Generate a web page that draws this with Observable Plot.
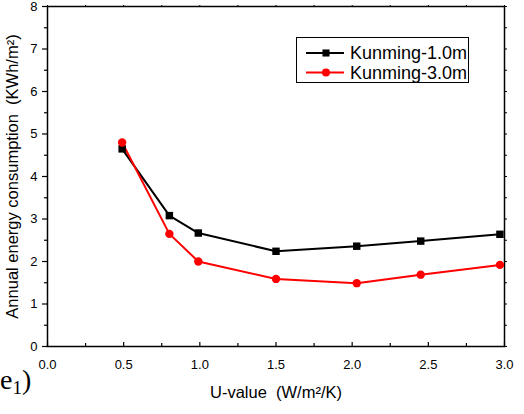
<!DOCTYPE html>
<html>
<head>
<meta charset="utf-8">
<script src="https://cdn.jsdelivr.net/npm/d3@7"></script>
<script src="https://cdn.jsdelivr.net/npm/@observablehq/plot@0.6"></script>
<style>
  html, body { margin: 0; padding: 0; background: #fff; overflow: hidden; }
  #wrap { position: relative; width: 524px; height: 414px; overflow: hidden; font-family: "Liberation Sans", Arial, sans-serif; }
  #wrap > svg { display: block; max-width: none; }
  #wrap svg text { white-space: pre; }
  #legend { position: absolute; left: 296px; top: 37px; }
  #panel { position: absolute; left: 0px; top: 366px; font-family: "Liberation Serif", "Times New Roman", serif; font-size: 28px; line-height: 1; color: #000; }
  #panel sub { font-size: 19px; vertical-align: -5px; }
</style>
</head>
<body>
<div id="wrap">
  <div id="panel">e<sub>1</sub>)</div>
</div>
<script>
// U-value of the envelope (W/m²/K)
const uValues = [0.49, 0.80, 0.99, 1.50, 2.03, 2.45, 2.97];
// Annual energy consumption (KWh/m²) for two burial depths
const kunming10 = [4.65, 3.08, 2.67, 2.24, 2.36, 2.48, 2.64];
const kunming30 = [4.80, 2.65, 2.00, 1.59, 1.49, 1.69, 1.92];

const seriesNames = ["Kunming-1.0m", "Kunming-3.0m"];
const seriesColors = ["#000000", "#ff0000"];
const seriesSymbols = ["square", "circle"];

const xMajor = [0, 0.5, 1.0, 1.5, 2.0, 2.5, 3.0];
const xMinor = [0.25, 0.75, 1.25, 1.75, 2.25, 2.75];
const yMajor = [0, 1, 2, 3, 4, 5, 6, 7, 8];
const yMinor = [0.5, 1.5, 2.5, 3.5, 4.5, 5.5, 6.5, 7.5];

const xTitle = "U-value  (W/m²/K)";
const yTitle = "Annual energy consumption  (KWh/m²)";

const rows = [
  ...uValues.map((u, i) => ({u, e: kunming10[i], series: seriesNames[0]})),
  ...uValues.map((u, i) => ({u, e: kunming30[i], series: seriesNames[1]}))
];

const H = 414, mTop = 6, mBottom = 68;
const frameH = H - mTop - mBottom;
const none = () => "";
const fmtX = d3.format(".1f");

const chart = Plot.plot({
  width: 524,
  height: H,
  marginLeft: 47,
  marginRight: 20,
  marginTop: mTop,
  marginBottom: mBottom,
  style: {fontFamily: "'Liberation Sans', Arial, sans-serif", fontSize: "13px", color: "#000", background: "#fff"},
  x: {domain: [0, 3]},
  y: {domain: [0, 8]},
  color: {domain: seriesNames, range: seriesColors},
  symbol: {domain: seriesNames, range: seriesSymbols},
  marks: [
    // tick labels and ticks
    Plot.axisY({ticks: yMajor, tickSize: 5, tickPadding: 5, tickFormat: d3.format("d"), label: null, strokeWidth: 1.2}),
    Plot.axisY({ticks: yMinor, tickSize: 3, tickFormat: none, label: null, strokeWidth: 1.2}),
    Plot.axisY({anchor: "right", ticks: [...yMajor, ...yMinor], tickSize: 2, tickFormat: none, label: null}),
    Plot.axisX({anchor: "top", ticks: [...xMajor, ...xMinor], tickSize: 2, tickFormat: none, label: null}),
    Plot.text(xMajor, {x: d => d, y: 0, text: d => fmtX(d), lineAnchor: "middle", dy: 18, fontSize: 13, fill: "#000"}),
    Plot.tickX(xMajor, {x: d => d, insetTop: frameH - 4, stroke: "#000", strokeWidth: 1.2}),
    Plot.tickX(xMinor, {x: d => d, insetTop: frameH - 3, stroke: "#000", strokeWidth: 1.2}),
    Plot.frame({stroke: "#000", strokeWidth: 1.5}),
    // series
    Plot.line(rows, {x: "u", y: "e", z: "series", stroke: "series", strokeWidth: 2}),
    Plot.dot(rows, {x: "u", y: "e", fill: "series", symbol: "series", r: 4.2, stroke: "none"}),
    // axis titles
    Plot.text([xTitle], {x: 1.5, y: 0, lineAnchor: "middle", dy: 46, fontSize: 16.5, fill: "#000"}),
    Plot.text([yTitle], {frameAnchor: "left", textAnchor: "middle", rotate: -90, dx: -35, fontSize: 16.5, fill: "#000"})
  ]
});

const wrap = document.getElementById("wrap");
wrap.insertBefore(chart, wrap.firstChild);

// legend box
const lw = 173, lh = 46;
const legend = d3.create("svg")
  .attr("id", "legend")
  .attr("width", lw)
  .attr("height", lh)
  .style("overflow", "visible");
legend.append("rect")
  .attr("x", 0.5).attr("y", 0.5)
  .attr("width", lw - 1).attr("height", lh - 1)
  .attr("fill", "#fff").attr("stroke", "#000").attr("stroke-width", 1);
seriesNames.forEach((name, i) => {
  const cy = 16 + i * 19.5;
  const g = legend.append("g");
  g.append("line")
    .attr("x1", 10).attr("x2", 48).attr("y1", cy).attr("y2", cy)
    .attr("stroke", seriesColors[i]).attr("stroke-width", 2);
  g.append("path")
    .attr("transform", `translate(30,${cy})`)
    .attr("d", d3.symbol(seriesSymbols[i] === "square" ? d3.symbolSquare : d3.symbolCircle, 50)())
    .attr("fill", seriesColors[i]);
  g.append("text")
    .attr("x", 54).attr("y", cy).attr("dy", "0.35em")
    .attr("font-family", "'Liberation Sans', Arial, sans-serif")
    .attr("font-size", 18)
    .attr("fill", "#000")
    .text(name);
});
wrap.appendChild(legend.node());
</script>
</body>
</html>
